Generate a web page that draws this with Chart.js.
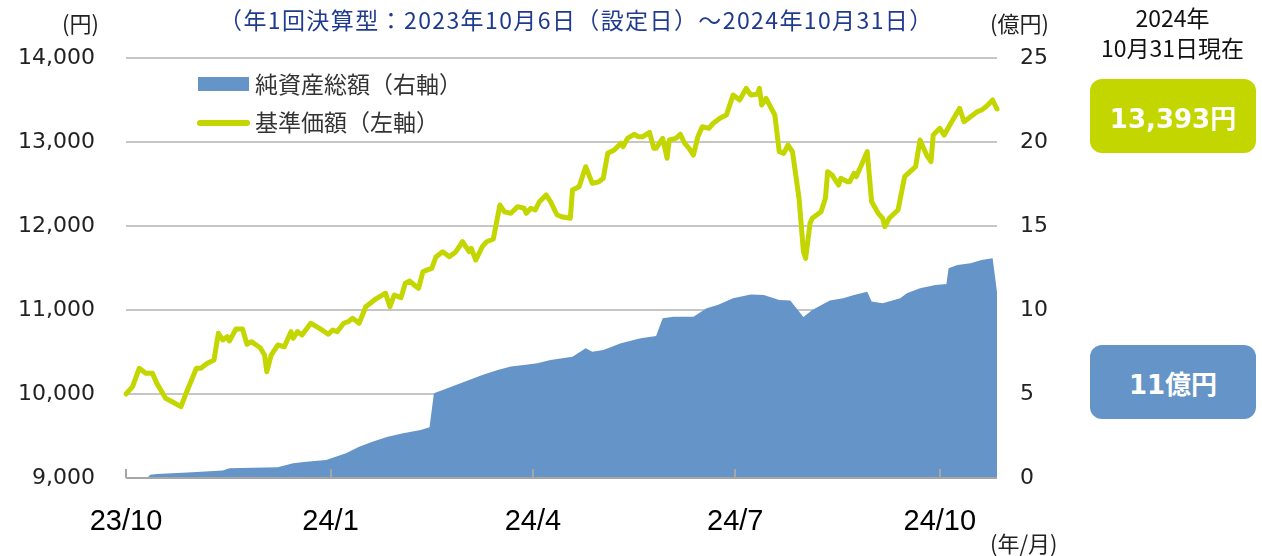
<!DOCTYPE html>
<html>
<head>
<meta charset="utf-8">
<script src="https://cdn.jsdelivr.net/npm/chart.js"></script>
<style>
  body { margin: 0; background: #fff; }
  #wrap { position: relative; width: 1262px; height: 556px; font-family: "Noto Sans CJK JP", "DejaVu Sans", sans-serif; }
  #myChart { position: absolute; left: 0; top: 0; }
  .txt { position: absolute; white-space: nowrap; line-height: 1; }
  .box { position: absolute; border-radius: 12px; color: #fff; font-weight: bold;
         font-family: "DejaVu Sans", "Noto Sans CJK JP", sans-serif; font-size: 26px;
         display: flex; align-items: center; justify-content: center; }
</style>
</head>
<body>
<div id="wrap">
  <canvas id="myChart" width="1262" height="556"></canvas>

  <div class="txt" style="left:62px;top:11px;font-size:22px;color:#222;">(円)</div>
  <div class="txt" style="left:219px;top:8px;font-size:23px;letter-spacing:1.4px;color:#203a8f;">（年1回決算型：2023年10月6日（設定日）～2024年10月31日）</div>
  <div class="txt" style="left:990px;top:11px;font-size:22px;color:#222;">(億円)</div>
  <div class="txt" style="left:990px;top:531px;font-size:22px;color:#222;">(年/月)</div>

  <div class="txt" style="left:1085px;width:175px;text-align:center;top:6px;font-size:23px;color:#111;">2024年</div>
  <div class="txt" style="left:1085px;width:175px;text-align:center;top:36px;font-size:23px;color:#111;">10月31日現在</div>

  <div class="box" style="left:1090px;top:79px;width:166px;height:74px;background:#c4d600;">13,393円</div>
  <div class="box" style="left:1090px;top:345px;width:166px;height:74px;background:#6594c8;">11億円</div>

  <!-- legend -->
  <div style="position:absolute;left:198px;top:77px;width:51px;height:14px;background:#6594c8;"></div>
  <div class="txt" style="left:255px;top:72px;font-size:23px;color:#333;">純資産総額（右軸）</div>
  <div style="position:absolute;left:197px;top:120px;width:53px;height:6px;border-radius:3px;background:#c4d600;"></div>
  <div class="txt" style="left:255px;top:110px;font-size:23px;color:#333;">基準価額（左軸）</div>
</div>

<script>
// x positions are days counted from the first axis tick (23/10)
const tickDays = [0, 93, 185, 277, 370];
const tickLabels = ["23/10", "24/1", "24/4", "24/7", "24/10"];

// 基準価額 (left axis, 円)
const navDays = [0, 3, 6, 9, 12, 14, 18, 21, 25, 27, 32, 34, 37, 40, 42, 44, 46, 47, 50, 53,
  55, 57, 61, 63, 64, 66, 69, 72, 75, 76, 78, 80, 84, 88, 92, 94, 96, 99, 101, 103,
  106, 109, 114, 118, 120, 122, 125, 127, 129, 131, 133, 135, 139, 141, 144, 147, 150, 153, 156, 157,
  159, 162, 164, 167, 170, 172, 175, 178, 181, 182, 184, 186, 188, 191, 193, 196, 198, 202, 203, 206,
  209, 212, 215, 217, 219, 222, 225, 226, 228, 231, 233, 235, 238, 240, 241, 244, 246, 247, 250, 252,
  254, 256, 258, 260, 262, 265, 267, 270, 273, 276, 279, 282, 284, 287, 288, 289, 291, 293, 295, 297,
  299, 301, 303, 306, 308, 309, 311, 312, 316, 318, 319, 321, 322, 324, 325, 328, 329, 331, 332, 334,
  337, 339, 342, 344, 345, 347, 351, 354, 359, 361, 364, 366, 367, 370, 372, 375, 379, 381, 384, 387,
  389, 391, 394, 396];
const navValues = [10000, 10087, 10306, 10246, 10246, 10127, 9949, 9908, 9849, 9988, 10306, 10306, 10365, 10405, 10723, 10643, 10682, 10631, 10774, 10774,
  10592, 10623, 10551, 10464, 10265, 10464, 10583, 10563, 10742, 10663, 10742, 10702, 10842, 10782, 10711, 10762, 10742, 10842, 10861, 10901,
  10842, 11039, 11139, 11199, 11039, 11179, 11146, 11318, 11345, 11298, 11258, 11456, 11496, 11635, 11694, 11635, 11694, 11813, 11694, 11734,
  11595, 11754, 11813, 11845, 12250, 12170, 12151, 12230, 12211, 12151, 12211, 12190, 12290, 12369, 12290, 12131, 12111, 12092, 12429, 12468,
  12706, 12508, 12527, 12568, 12865, 12905, 12985, 12945, 13044, 13092, 13063, 13063, 13115, 12925, 12925, 13044, 12806, 13024, 13044, 13092,
  12985, 12925, 12845, 13063, 13182, 13163, 13223, 13282, 13321, 13560, 13500, 13639, 13560, 13568, 13639, 13440, 13520, 13420, 13321, 12885,
  12865, 12964, 12885, 12330, 11694, 11615, 12032, 12092, 12170, 12330, 12646, 12607, 12568, 12488, 12568, 12527, 12527, 12627, 12587, 12706,
  12885, 12289, 12151, 12092, 11992, 12092, 12190, 12587, 12706, 13024, 12845, 12766, 13083, 13163, 13083, 13223, 13401, 13242, 13301, 13361,
  13381, 13420, 13500, 13393];

// 純資産総額 (right axis, 億円)
const aumDays = [0, 10, 11, 14, 28, 44, 47, 69, 76, 82, 91, 100, 106, 112, 119, 126, 134, 138, 140, 144,
  150, 156, 162, 169, 175, 181, 187, 193, 203, 209, 212, 217, 225, 234, 241, 244, 249, 258, 264, 269,
  276, 284, 290, 297, 302, 308, 312, 320, 326, 331, 337, 339, 344, 352, 355, 361, 368, 373, 374, 378,
  384, 389, 394, 396];
const aumValues = [0, 0.05, 0.2, 0.24, 0.33, 0.45, 0.58, 0.64, 0.88, 0.97, 1.07, 1.47, 1.86, 2.16, 2.46, 2.66, 2.86, 3.02, 5.04, 5.24,
  5.54, 5.83, 6.13, 6.43, 6.63, 6.73, 6.83, 7.02, 7.22, 7.72, 7.52, 7.62, 8.02, 8.32, 8.45, 9.51, 9.6, 9.6, 10.1, 10.3,
  10.7, 10.93, 10.9, 10.6, 10.57, 9.58, 10.0, 10.57, 10.7, 10.9, 11.09, 10.5, 10.4, 10.7, 11.0, 11.29, 11.49, 11.55, 12.48, 12.68,
  12.78, 12.98, 13.08, 11.07];

const toPoints = (xs, ys) => xs.map((x, i) => ({ x: x, y: ys[i] }));

// small upward tick marks on the date axis
const innerTicks = {
  id: "innerTicks",
  afterDatasetsDraw(chart) {
    const ctx = chart.ctx;
    const xs = chart.scales.x;
    const bottom = chart.chartArea.bottom;
    ctx.save();
    ctx.strokeStyle = "#a6a6a6";
    ctx.lineWidth = 2;
    tickDays.forEach((d) => {
      const px = Math.round(xs.getPixelForValue(d));
      ctx.beginPath();
      ctx.moveTo(px, bottom);
      ctx.lineTo(px, bottom - 9);
      ctx.stroke();
    });
    ctx.beginPath();
    ctx.moveTo(chart.chartArea.left, bottom);
    ctx.lineTo(chart.chartArea.right, bottom);
    ctx.stroke();
    ctx.restore();
  },
};

const chart = new Chart(document.getElementById("myChart"), {
  type: "line",
  data: {
    datasets: [
      {
        label: "基準価額（左軸）",
        data: toPoints(navDays, navValues),
        borderColor: "#c4d600",
        borderWidth: 5,
        borderJoinStyle: "round",
        borderCapStyle: "round",
        pointRadius: 0,
        tension: 0,
        yAxisID: "y",
        order: 0,
        clip: false,
      },
      {
        label: "純資産総額（右軸）",
        data: toPoints(aumDays, aumValues),
        backgroundColor: "#6594c8",
        borderWidth: 0,
        pointRadius: 0,
        fill: "origin",
        tension: 0,
        yAxisID: "y1",
        order: 1,
      },
    ],
  },
  options: {
    responsive: false,
    animation: false,
    devicePixelRatio: 1,
    layout: { padding: { top: 58, left: 0, right: 0, bottom: 0 } },
    plugins: { legend: { display: false }, tooltip: { enabled: false } },
    scales: {
      x: {
        type: "linear",
        min: 0,
        max: 396,
        grid: { display: false },
        border: { display: false },
        afterBuildTicks: (scale) => {
          scale.ticks = tickDays.map((v) => ({ value: v }));
        },
        afterFit: (scale) => { scale.height = 78; },
        ticks: {
          autoSkip: false,
          maxRotation: 0,
          padding: 19,
          color: "#000",
          font: { family: "Liberation Sans", size: 29 },
          callback: (v) => tickLabels[tickDays.indexOf(v)],
        },
      },
      y: {
        position: "left",
        min: 9000,
        max: 14000,
        afterFit: (scale) => { scale.width = 126; },
        grid: { color: "#c6c6c6", lineWidth: 2, drawTicks: false },
        border: { display: false },
        ticks: {
          stepSize: 1000,
          padding: 31,
          color: "#222",
          font: { family: "DejaVu Sans", size: 22 },
          callback: (v) => v.toLocaleString("en-US"),
        },
      },
      y1: {
        position: "right",
        min: 0,
        max: 25,
        afterFit: (scale) => { scale.width = 265; },
        grid: { display: false, drawTicks: false },
        border: { display: false },
        ticks: {
          stepSize: 5,
          padding: 23,
          color: "#222",
          font: { family: "DejaVu Sans", size: 22 },
        },
      },
    },
  },
  plugins: [innerTicks],
});
</script>
</body>
</html>
